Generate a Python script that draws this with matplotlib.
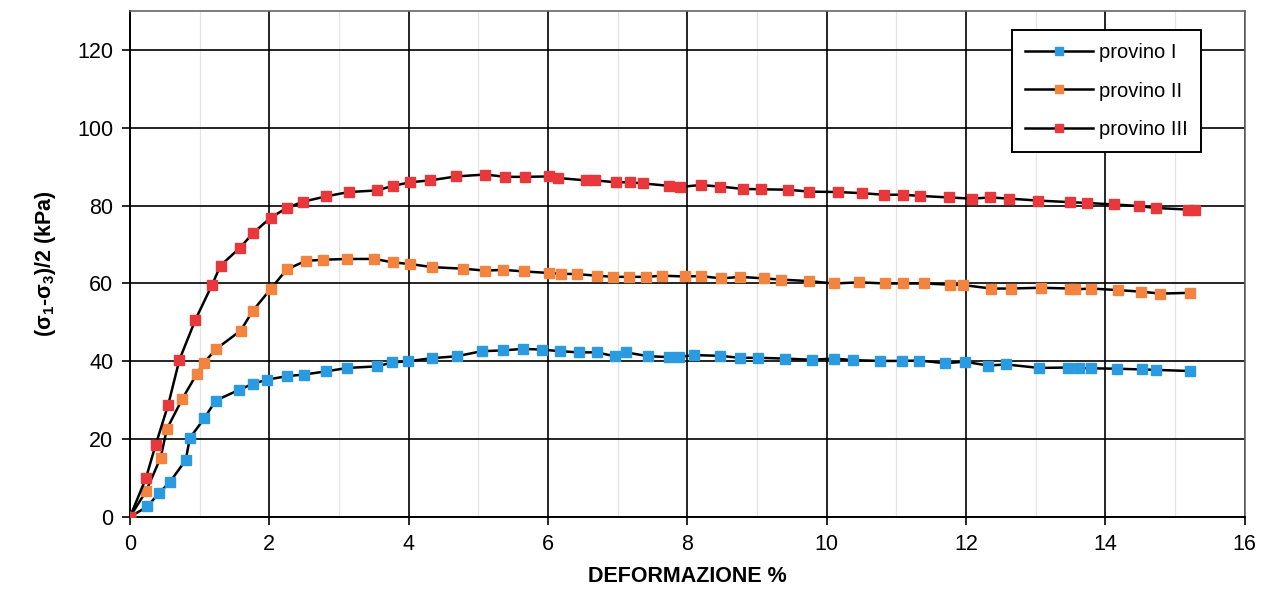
import numpy as np
import matplotlib
matplotlib.use('Agg')
from matplotlib import pyplot as plt

plt.rcParams['font.family'] = ['Liberation Sans', 'DejaVu Sans']
plt.rcParams['mathtext.fontset'] = 'custom'
plt.rcParams['mathtext.rm'] = 'Liberation Sans'
plt.rcParams['mathtext.bf'] = 'Liberation Sans:bold'
plt.rcParams['mathtext.it'] = 'Liberation Sans:italic'

# provino I
x1 = [0, 0.25, 0.42, 0.57, 0.80, 0.86, 1.07, 1.23, 1.57, 1.76, 1.97, 2.26, 2.50, 2.81,
      3.12, 3.55, 3.76, 3.99, 4.33, 4.69, 5.05, 5.36, 5.64, 5.92, 6.17, 6.44, 6.70, 6.96,
      7.12, 7.44, 7.73, 7.88, 8.09, 8.47, 8.76, 9.02, 9.40, 9.79, 10.10, 10.38, 10.77,
      11.08, 11.33, 11.70, 11.98, 12.32, 12.57, 13.05, 13.47, 13.62, 13.79, 14.17, 14.53,
      14.72, 15.22]
y1 = [0, 2.7, 6.2, 8.9, 14.6, 20.3, 25.4, 29.9, 32.7, 34.2, 35.3, 36.2, 36.6, 37.4,
      38.3, 38.7, 39.7, 40.0, 40.8, 41.3, 42.6, 42.8, 43.2, 43.0, 42.6, 42.3, 42.3, 41.3,
      42.3, 41.3, 41.1, 41.1, 41.6, 41.4, 40.9, 40.9, 40.7, 40.4, 40.7, 40.3, 40.1,
      40.1, 40.2, 39.5, 39.9, 38.9, 39.2, 38.3, 38.4, 38.3, 38.2, 38.1, 37.9,
      37.8, 37.5]

# provino II
x2 = [0, 0.23, 0.44, 0.53, 0.75, 0.96, 1.06, 1.24, 1.59, 1.76, 2.02, 2.25, 2.52, 2.77,
      3.11, 3.51, 3.78, 4.02, 4.34, 4.78, 5.10, 5.36, 5.65, 6.01, 6.18, 6.42, 6.70, 6.94,
      7.17, 7.40, 7.64, 7.96, 8.19, 8.49, 8.76, 9.10, 9.35, 9.75, 10.11, 10.47, 10.84,
      11.09, 11.39, 11.77, 11.96, 12.36, 12.64, 13.08, 13.49, 13.57, 13.80, 14.18, 14.51,
      14.79, 15.22]
y2 = [0, 6.6, 15.2, 22.6, 30.3, 36.8, 39.6, 43.2, 47.9, 52.9, 58.6, 63.6, 65.8, 66.1,
      66.3, 66.3, 65.4, 65.0, 64.2, 63.8, 63.3, 63.5, 63.1, 62.7, 62.5, 62.4, 62.0, 61.7,
      61.7, 61.7, 62.0, 61.8, 61.9, 61.3, 61.7, 61.3, 61.0, 60.6, 60.0, 60.3, 60.0,
      60.0, 60.0, 59.7, 59.6, 58.7, 58.7, 58.9, 58.7, 58.5, 58.7, 58.3, 57.9,
      57.4, 57.6]

# provino III
x3 = [0, 0.23, 0.37, 0.55, 0.71, 0.94, 1.18, 1.30, 1.58, 1.77, 2.02, 2.25, 2.48, 2.82,
      3.14, 3.54, 3.78, 4.02, 4.31, 4.68, 5.10, 5.39, 5.67, 6.01, 6.15, 6.54, 6.68, 6.97,
      7.18, 7.37, 7.73, 7.90, 8.19, 8.47, 8.80, 9.06, 9.44, 9.75, 10.16, 10.51, 10.82,
      11.10, 11.34, 11.76, 12.08, 12.35, 12.62, 13.04, 13.49, 13.73, 14.13, 14.48, 14.72,
      15.18, 15.28]
y3 = [0, 10.0, 18.6, 28.9, 40.4, 50.7, 59.7, 64.6, 69.2, 73.0, 76.9, 79.4, 81.0, 82.4,
      83.5, 83.9, 85.1, 86.0, 86.5, 87.5, 88.0, 87.4, 87.4, 87.5, 87.1, 86.5, 86.5, 86.0,
      86.0, 85.7, 85.1, 84.8, 85.3, 84.9, 84.3, 84.2, 84.1, 83.6, 83.5, 83.2, 82.8,
      82.8, 82.5, 82.1, 81.8, 82.1, 81.8, 81.3, 80.9, 80.7, 80.3, 79.9, 79.4,
      79.0, 79.0]

labels = ['provino I', 'provino II', 'provino III']
colors = ['#2a9be0', '#f3843f', '#e8383c']

fig = plt.figure(figsize=(12.74, 5.98), dpi=100)
ax = fig.add_axes([0.102, 0.1355, 0.875, 0.846])

for xs, ys, lab, c in zip([x1, x2, x3], [y1, y2, y3], labels, colors):
    ax.plot(xs, ys, color='black', lw=1.8, marker='s', ms=7.5,
            mfc=c, mec=c, label=lab, zorder=3)

ax.set_xlim(0, 16)
ax.set_ylim(0, 130)
ax.set_xticks(np.arange(0, 17, 2))
ax.set_yticks(np.arange(0, 121, 20))
ax.set_xticks(np.arange(1, 16, 2), minor=True)
ax.grid(which='major', color='black', lw=1.2, zorder=1)
ax.grid(which='minor', axis='x', color='#e4e4e4', lw=0.9, zorder=0)
ax.tick_params(which='major', direction='out', length=6, width=1.2, labelsize=15.5, pad=6)
ax.tick_params(which='minor', length=0)

for s in ['left', 'bottom']:
    ax.spines[s].set_color('black')
    ax.spines[s].set_linewidth(1.4)
for s in ['top', 'right']:
    ax.spines[s].set_color('#666666')
    ax.spines[s].set_linewidth(1.2)

ax.set_xlabel('DEFORMAZIONE %', fontsize=15.5, fontweight='bold', labelpad=8)
ax.set_ylabel(r'$\mathbf{(\sigma_1}$-$\mathbf{\sigma_3)/2}$ (kPa)', fontsize=15.5,
              fontweight='bold', labelpad=14)

leg = ax.legend(loc='upper right', bbox_to_anchor=(0.961, 0.962), borderaxespad=0,
                fontsize=14.5, fancybox=False, framealpha=1, edgecolor='black',
                handlelength=3.4, labelspacing=0.95, borderpad=0.65, handletextpad=0.3,
                markerscale=0.75)
leg.get_frame().set_linewidth(1.4)

fig.savefig('out.png', dpi=100)
